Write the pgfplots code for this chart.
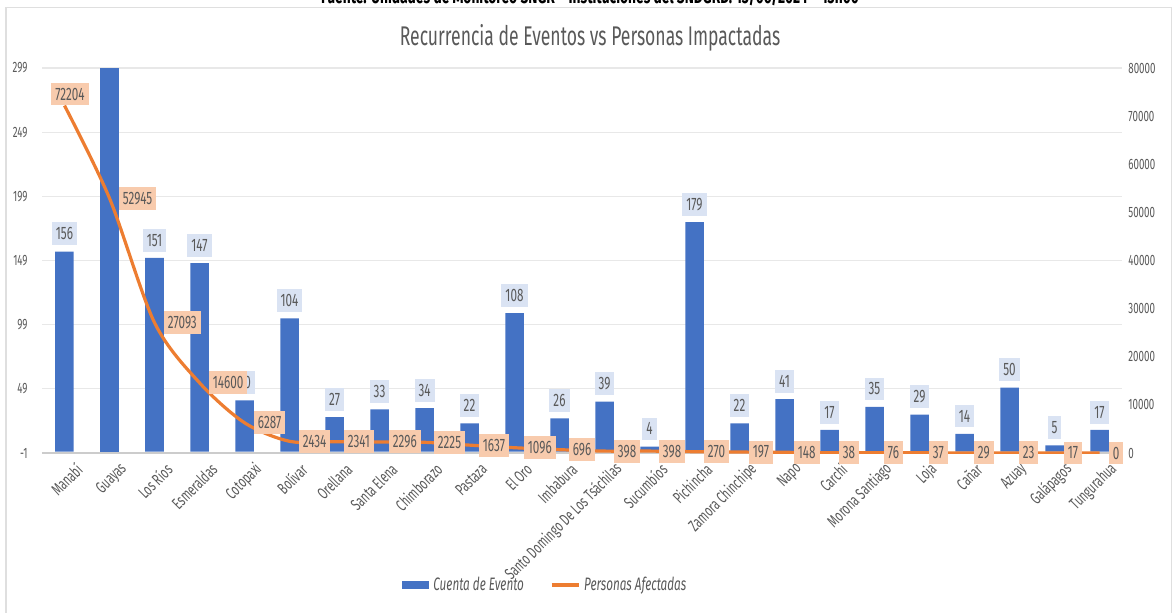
\documentclass[border=0pt]{standalone}
\usepackage{fontspec}
\setmainfont{Fira Sans}[FakeStretch=0.65]
\usepackage{pgfplots}
\pgfplotsset{compat=1.18}
\definecolor{barblue}{HTML}{4472C4}
\definecolor{lineorange}{HTML}{ED7D31}
\definecolor{barlab}{HTML}{DAE3F3}
\definecolor{linelab}{HTML}{F8CBAD}
\definecolor{txt}{HTML}{595959}
\definecolor{gridc}{HTML}{E8E8E8}

\tikzset{lablook/.style={text=txt, font=\fontsize{9}{10}\selectfont, inner xsep=2pt, inner ysep=2.6pt}}
\pgfplotsset{
  frame/.style={at={(21pt,79.5pt)}, anchor=south west, scale only axis,
    width=540pt, height=192.5pt, xmin=-0.5, xmax=23.5,
    major tick length=0pt,
    /pgf/number format/assume math mode=true,
    /pgf/number format/fixed, /pgf/number format/precision=0,
    /pgf/number format/1000 sep={}},
}

\begin{document}
\begin{tikzpicture}
\useasboundingbox (0,0) rectangle (586.5pt,306pt);
\draw[gray!25, line width=0.75pt] (3pt,-5pt) -- (3pt,302.25pt) -- (585.75pt,302.25pt) -- (585.75pt,-5pt);
\node[font=\bfseries\fontsize{10.6}{11}\selectfont, anchor=base] at (295pt,304pt)
  {Fuente: Unidades de Monitoreo SNGR – Instituciones del SNDGRD. 13/06/2024 – 13h00};
\node[font=\fontsize{13.5}{15}\selectfont, text=txt] at (295pt,287pt)
  {Recurrencia de Eventos vs Personas Impactadas};

% left axis: number of events
\begin{axis}[frame,
  ymin=-1, ymax=299,
  ytick={-1,49,99,149,199,249,299},
  xtick={0,...,23},
  xticklabels={Manabí, Guayas, Los Ríos, Esmeraldas, Cotopaxi, Bolívar, Orellana,
    Santa Elena, Chimborazo, Pastaza, El Oro, Imbabura, Santo Domingo De Los Tsáchilas,
    Sucumbíos, Pichincha, Zamora Chinchipe, Napo, Carchi, Morona Santiago, Loja,
    Cañar, Azuay, Galápagos, Tungurahua},
  axis x line*=bottom, axis y line*=left,
  x axis line style={draw=gray!40, line width=0.6pt},
  y axis line style={draw=none},
  ymajorgrids, grid style={draw=gridc, line width=0.6pt},
  yticklabel style={font=\fontsize{7.5}{9}\selectfont, text=txt, anchor=east, inner sep=0pt, xshift=-7pt},
  xticklabel style={font=\fontsize{8.3}{9}\selectfont, text=txt, rotate=45, anchor=east, inner sep=1pt, xshift=1.5pt, yshift=-10pt},
  legend columns=2,
  legend style={at={(0.467,-0.343)}, anchor=center, draw=none, fill=none,
    font=\itshape\fontsize{9}{10}\selectfont, text=txt,
    /tikz/every even column/.append style={column sep=11pt}},
]
\addplot[ybar, bar width=9.25pt, bar shift=0pt, fill=barblue, draw=none,
  nodes near coords,
  every node near coord/.append style={lablook, fill=barlab, anchor=south, yshift=3pt},
  legend image code/.code={\fill[barblue] (0pt,-2pt) rectangle (13.5pt,2pt);}]
  coordinates {(0,156) (2,151) (3,147) (4,40) (5,104) (6,27) (7,33) (8,34) (9,22)
    (10,108) (11,26) (12,39) (13,4) (14,179) (15,22) (16,41) (17,17) (18,35)
    (19,29) (20,14) (21,50) (22,5) (23,17)};
\addlegendentry{Cuenta de Evento}
% Guayas goes past the top of the axis and has no label
\addplot[ybar, bar width=9.25pt, bar shift=0pt, fill=barblue, draw=none, forget plot]
  coordinates {(1,305)};
\addlegendimage{legend image code/.code={\draw[lineorange, line width=1.6pt] (0pt,0pt) -- (13.5pt,0pt);}}
\addlegendentry{Personas Afectadas}
\end{axis}

% right axis: people affected
\begin{axis}[frame,
  ymin=0, ymax=80000,
  ytick={0,10000,...,80000}, scaled y ticks=false,
  axis y line*=right, axis x line=none,
  y axis line style={draw=none},
  yticklabel style={font=\fontsize{7.5}{9}\selectfont, text=txt, anchor=west, inner sep=0pt, xshift=3pt},
]
\addplot[lineorange, line width=1.6pt, smooth, tension=0.5, mark=none]
  coordinates {(0,72204) (1,52945) (2,27093) (3,14600) (4,6287) (5,2434) (6,2341)
    (7,2296) (8,2225) (9,1637) (10,1096) (11,696) (12,398) (13,398) (14,270)
    (15,197) (16,148) (17,38) (18,76) (19,37) (20,29) (21,23) (22,17) (23,0)};
\addplot[draw=none, mark=none, nodes near coords,
  every node near coord/.append style={lablook, fill=linelab, anchor=west, xshift=4.5pt}]
  coordinates {(1,52945) (2,27093) (3,14600) (4,6287) (5,2434) (6,2341)
    (7,2296) (8,2225) (9,1637) (10,1096) (11,696) (12,398) (13,398) (14,270)
    (15,197) (16,148) (17,38) (18,76) (19,37) (20,29) (21,23) (22,17) (23,0)};
\addplot[draw=none, mark=none, nodes near coords,
  every node near coord/.append style={lablook, fill=linelab, anchor=center, xshift=2.75pt, yshift=5.75pt}]
  coordinates {(0,72204)};
\end{axis}
\end{tikzpicture}
\end{document}
